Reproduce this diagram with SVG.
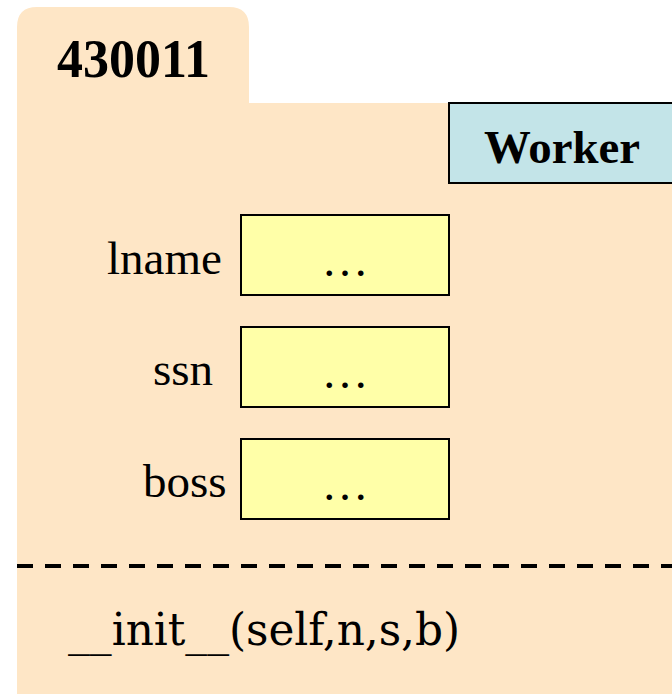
<svg xmlns="http://www.w3.org/2000/svg" width="672" height="694" viewBox="0 0 672 694">
  <style>
    .folder { fill: #fee6c6; }
    .field { fill: #ffffa8; stroke: #000; stroke-width: 2; }
    .cls { fill: #c3e4e8; stroke: #000; stroke-width: 2; }
    .lbl { font-family: "Liberation Serif", "Times New Roman", serif; font-size: 47px; fill: #000; }
    .dot { fill: #000; }
    .bold { font-family: "Liberation Serif", "Times New Roman", serif; font-weight: bold; fill: #000; }
    .method { font-family: "DejaVu Serif Condensed", "Liberation Serif", serif; font-size: 44px; fill: #000; }
  </style>

  <!-- folder: tab plus body -->
  <g id="folder">
    <path class="folder" d="M17 694 V27 Q17 7 37 7 H229 Q249 7 249 27 V103 H672 V694 Z"/>
    <text class="bold" x="57" y="77" font-size="54" textLength="153" lengthAdjust="spacingAndGlyphs">430011</text>
  </g>

  <!-- class name tag -->
  <g id="class-tag">
    <rect class="cls" x="449" y="103" width="230" height="80"/>
    <text class="bold" x="484" y="163" font-size="47" textLength="156" lengthAdjust="spacingAndGlyphs">Worker</text>
  </g>

  <!-- attribute fields -->
  <g id="field-lname">
    <text class="lbl" x="107" y="274">lname</text>
    <rect class="field" x="241" y="215" width="208" height="80"/>
    <text class="lbl" x="345" y="276" text-anchor="middle" font-size="44">…</text>
  </g>
  <g id="field-ssn">
    <text class="lbl" x="153" y="385">ssn</text>
    <rect class="field" x="241" y="327" width="208" height="80"/>
    <text class="lbl" x="345" y="388" text-anchor="middle" font-size="44">…</text>
  </g>
  <g id="field-boss">
    <text class="lbl" x="143" y="497">boss</text>
    <rect class="field" x="241" y="439" width="208" height="80"/>
    <text class="lbl" x="345" y="500" text-anchor="middle" font-size="44">…</text>
  </g>

  <!-- separator between fields and methods -->
  <g id="connectors">
    <line x1="17" y1="566" x2="672" y2="566" stroke="#000" stroke-width="4" stroke-dasharray="16 12"/>
  </g>

  <!-- method list -->
  <g id="methods">
    <text class="method" x="68" y="645" textLength="392" lengthAdjust="spacingAndGlyphs">__init__(self,n,s,b)</text>
  </g>
</svg>
